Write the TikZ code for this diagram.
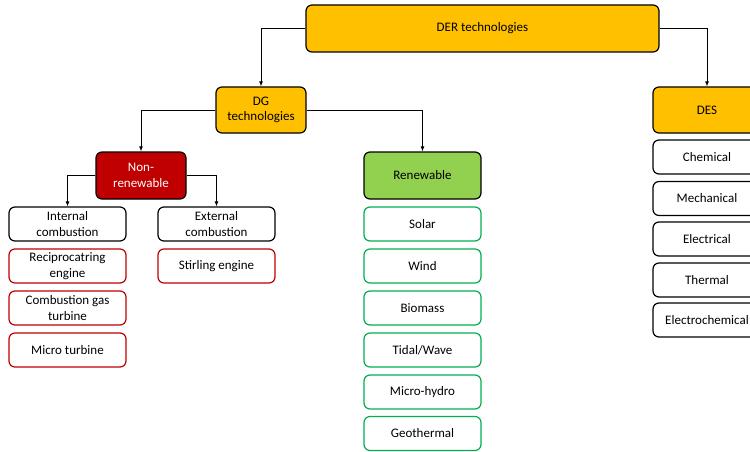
\documentclass[tikz,border=0pt]{standalone}
\usepackage{fontspec}
\setmainfont{Carlito}
\usetikzlibrary{arrows.meta}
\definecolor{derorange}{HTML}{FFC000}
\definecolor{nonred}{HTML}{C00000}
\definecolor{rengreen}{HTML}{92D050}
\definecolor{itemgreen}{HTML}{00B050}
\definecolor{itemred}{HTML}{C00000}
\begin{document}
\begin{tikzpicture}[x=1pt,y=-1pt,
  box/.style={draw=black,line width=1.2pt,rounded corners=6pt,inner sep=0pt,
    align=center,font=\fontsize{13}{15.3}\selectfont},
  head/.style={box,minimum height=47pt},
  item/.style={box,fill=white,minimum width=117pt,minimum height=34pt},
  reditem/.style={item,draw=itemred},
  greenitem/.style={item,draw=itemgreen},
  link/.style={line width=0.9pt,-{Latex[length=5pt,width=4pt]}}]
\useasboundingbox (0,0) rectangle (750,452);
\fill[white] (0,0) rectangle (750,452);
\begin{scope}
\clip (0,0) rectangle (750,452);
% top levels
\node[head,fill=derorange,minimum width=353pt] (der) at (482.5,28.5) {DER technologies};
\node[head,fill=derorange,minimum width=90pt,minimum height=46pt] (dg) at (261,110) {DG\\technologies};
\node[head,fill=derorange,minimum width=108pt,minimum height=46pt] (des) at (707,110) {DES};
\node[head,fill=nonred,text=white,minimum width=90pt] (nonren) at (141,175.5) {Non-\\renewable};
\node[head,fill=rengreen,minimum width=117pt] (ren) at (422.5,175.5) {Renewable};
% non-renewable branch
\node[item] (intc) at (67.5,224) {Internal\\combustion};
\node[reditem] (recip) at (67.5,266) {Reciprocatring\\engine};
\node[reditem] (gast) at (67.5,308) {Combustion gas\\turbine};
\node[reditem] (microt) at (67.5,350) {Micro turbine};
\node[item] (extc) at (216.5,224) {External\\combustion};
\node[reditem] (stirl) at (216.5,266) {Stirling engine};
% renewable branch
\node[greenitem] (solar) at (422.5,224) {Solar};
\node[greenitem] (wind) at (422.5,266) {Wind};
\node[greenitem] (bio) at (422.5,308) {Biomass};
\node[greenitem] (tidal) at (422.5,350) {Tidal/Wave};
\node[greenitem] (mhydro) at (422.5,392) {Micro-hydro};
\node[greenitem] (geo) at (422.5,433.5) {Geothermal};
% storage branch
\node[item,minimum width=108pt] (chem) at (707,157) {Chemical};
\node[item,minimum width=108pt] (mech) at (707,198.5) {Mechanical};
\node[item,minimum width=108pt] (elec) at (707,239) {Electrical};
\node[item,minimum width=108pt] (therm) at (707,280) {Thermal};
\node[item,minimum width=108pt] (echem) at (707,320) {Electrochemical};
% connectors
\draw[link] (der.west) -| (dg.north);
\draw[link] (der.east) -| (des.north);
\draw[link] (dg.west) -| (nonren.north);
\draw[link] (dg.east) -| (ren.north);
\draw[link] (nonren.west) -| (intc.north);
\draw[link] (nonren.east) -| (extc.north);
\end{scope}
\end{tikzpicture}
\end{document}
